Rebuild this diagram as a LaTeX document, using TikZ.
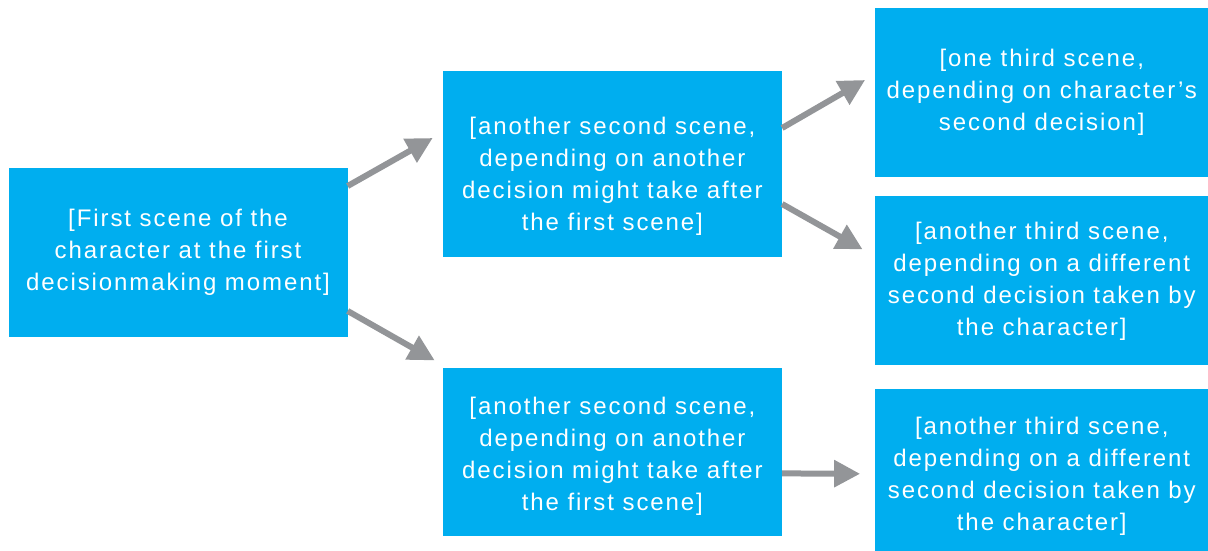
\documentclass[tikz,border=0pt]{standalone}
\usepackage{fontspec}
\setmainfont{Liberation Sans}[LetterSpace=8]
\usetikzlibrary{positioning}
\usetikzlibrary{arrows.meta}
\definecolor{scenecyan}{HTML}{00AEEF}
\definecolor{arrowgray}{HTML}{939598}
\tikzstyle{scene} = [rectangle,fill=scenecyan,text=white,align=center,inner sep=0pt,minimum width=339pt,minimum height=169pt, font=\fontsize{24}{32}\selectfont]
\tikzstyle{arr} = [draw=arrowgray,line width=6pt,-{Triangle[length=26pt,width=26pt]}]

\begin{document}
\begin{tikzpicture}
\useasboundingbox (0,0) rectangle (1208pt,-551pt);

% Define nodes
\node[scene] at (178pt,-252.5pt)                            (first)  {[First scene of the\\character at the first\\decisionmaking moment]};
\node[scene, right = 95pt of first, yshift = 88.5pt, minimum height = 186pt] (secA) {\mbox{}\\[9pt][another second scene,\\depending on another\\decision might take after\\the first scene]};
\node[scene, below = 111pt of secA, minimum height = 168pt]  (secB)   {\mbox{}\\[-6.5pt][another second scene,\\depending on another\\decision might take after\\the first scene]};
\node[scene, right = 93pt of secA, yshift = 71.5pt, minimum width = 333pt]    (thirdA) {[one third scene,\\depending on character’s\\second decision]};
\node[scene, below = 19pt of thirdA, minimum width = 333pt]  (thirdB) {[another third scene,\\depending on a different\\second decision taken by\\the character]};
\node[scene, below = 23pt of thirdB, minimum width = 333pt, minimum height = 162pt] (thirdC) {\mbox{}\\[-2.5pt][another third scene,\\depending on a different\\second decision taken by\\the character]};

% Edges
\draw[arr] ([yshift=66.5pt]first.east) -- ([xshift=-10pt,yshift=26pt]secA.west);
\draw[arr] ([yshift=-58.5pt]first.east) -- ([xshift=-8pt,yshift=92pt]secB.west);
\draw[arr] ([yshift=36pt]secA.east)     -- ([xshift=-10pt,yshift=12.5pt]thirdA.west);
\draw[arr] ([yshift=-40pt]secA.east)    -- ([xshift=-12.5pt,yshift=31.5pt]thirdB.west);
\draw[arr] ([yshift=-21pt]secB.east)    -- ([xshift=-15pt,yshift=-4pt]thirdC.west);

\end{tikzpicture}
\end{document}
